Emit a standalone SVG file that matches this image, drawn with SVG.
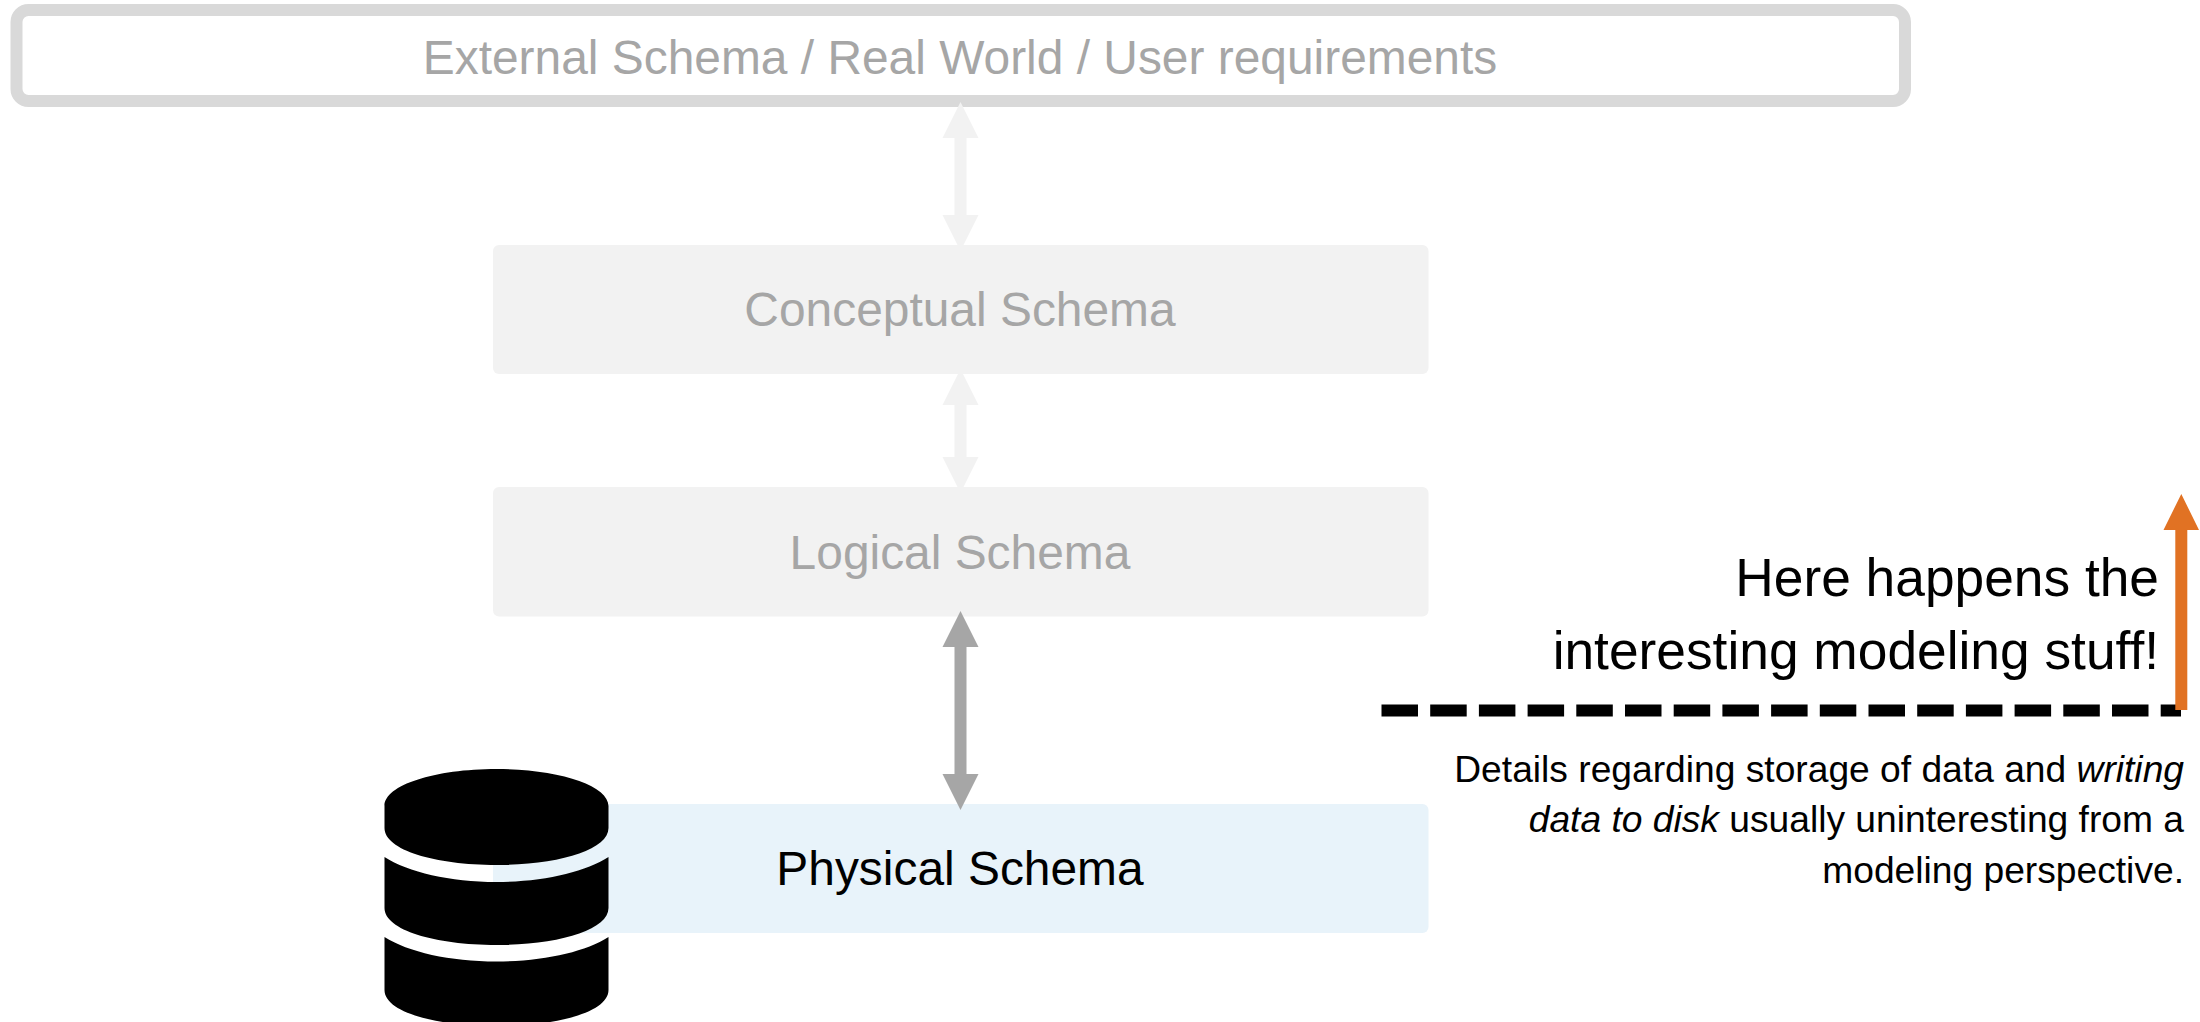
<svg xmlns="http://www.w3.org/2000/svg" width="2200" height="1022" viewBox="0 0 2200 1022">
<style>
text{font-family:"Liberation Sans",Arial,sans-serif}
.t{font-size:47.9px;text-anchor:middle}
.g{fill:#a6a6a6}
.b{fill:#f2f2f2}
.big{font-size:53.3px;text-anchor:end;fill:#000}
.sm{font-size:37.2px;text-anchor:end;fill:#000}
</style>
<rect width="2200" height="1022" fill="#fff"/>
<g id="external"><rect x="16.5" y="10" width="1888.500" height="91" rx="12" fill="#fff" stroke="#d9d9d9" stroke-width="12"/><text class="t g" x="960" y="74">External Schema / Real World / User requirements</text></g>
<g id="conceptual"><rect class="b" x="493" y="245" width="935.500" height="129" rx="6"/><text class="t g" x="960" y="326">Conceptual Schema</text></g>
<g id="logical"><rect class="b" x="493" y="487" width="935.500" height="129.500" rx="6"/><text class="t g" x="960" y="569">Logical Schema</text></g>
<g id="physical"><rect x="493" y="804" width="935.500" height="129" rx="6" fill="#e8f3fa"/><text class="t" x="960" y="885" fill="#000">Physical Schema</text></g>
<g id="database"><path fill="#000" fill-rule="evenodd" d="M384.500 806C384.500 785 435 769 496.500 769S608.500 785 608.500 806V828C608.500 850 558 865 496.500 865S384.500 850 384.500 828ZM384.500 857C408 872 450 882 496.500 882S585 872 608.500 857V908C608.500 930 558 945 496.500 945S384.500 930 384.500 908ZM384.500 937C408 952 450 961.500 496.500 961.500S585 952 608.500 937V990C608.500 1012 558 1026 496.500 1026S384.500 1012 384.500 990Z"/></g>
<g id="connectors">
<path fill="#f2f2f2" d="M960.500 102L978.500 138H966.500V215H978.500L960.500 251L942.500 215H954.500V138H942.500Z"/>
<path fill="#f2f2f2" d="M960.500 369L978.500 405H966.500V457H978.500L960.500 493L942.500 457H954.500V405H942.500Z"/>
<path fill="#a6a6a6" d="M960.500 611L978.500 647H966.500V774H978.500L960.500 810L942.500 774H954.500V647H942.500Z"/>
<line x1="1381.500" y1="710.500" x2="2181" y2="710.500" stroke="#000" stroke-width="12" stroke-dasharray="36.500 12.200"/>
<path fill="#e17223" d="M2181.300 494L2199 530H2187.300V710H2175.300V530H2163.500Z"/>
</g>
<g id="notes">
<text class="big" x="2159" y="596">Here happens the</text>
<text class="big" x="2159" y="669">interesting modeling stuff!</text>
<text class="sm" x="2184" y="782">Details regarding storage of data and <tspan font-style="italic">writing</tspan></text>
<text class="sm" x="2184" y="832"><tspan font-style="italic">data to disk</tspan> usually uninteresting from a</text>
<text class="sm" x="2184" y="883">modeling perspective.</text>
</g>
</svg>
